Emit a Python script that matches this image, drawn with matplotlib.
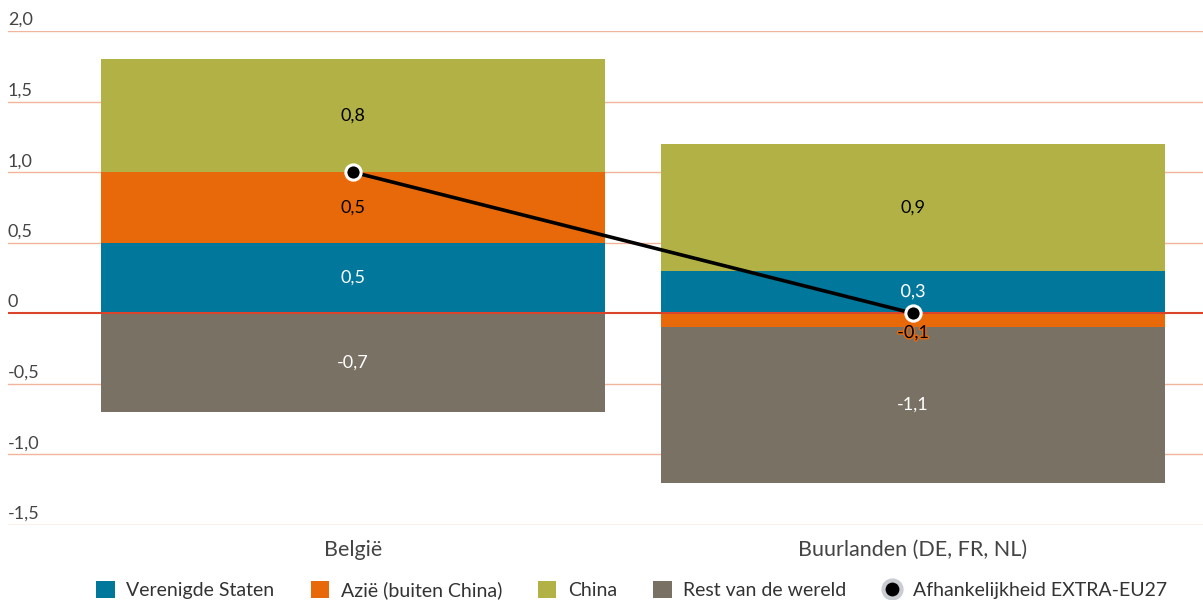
import matplotlib
matplotlib.use("Agg")
import matplotlib.pyplot as plt
from matplotlib.lines import Line2D
from matplotlib.patches import Patch
import matplotlib.patheffects as pe
import matplotlib.transforms as mtrans
import numpy as np

plt.rcParams['font.family'] = ['Lato', 'DejaVu Sans']

categories = ["België", "Buurlanden (DE, FR, NL)"]
series_names = ["Verenigde Staten", "Azië (buiten China)", "China", "Rest van de wereld"]
us = [0.5, 0.3]
asia = [0.5, -0.1]
china = [0.8, 0.9]
rest = [-0.7, -1.1]
dependence = [1.0, 0.0]
line_name = "Afhankelijkheid EXTRA-EU27"
yticks = [-1.5, -1.0, -0.5, 0, 0.5, 1.0, 1.5, 2.0]
ytick_labels = ["-1,5", "-1,0", "-0,5", "0", "0,5", "1,0", "1,5", "2,0"]

colors = ["#01779b", "#e8690a", "#b1b145", "#7a7165"]
label_colors = ["white", "black", "black", "white"]

fig = plt.figure(figsize=(12.03, 6.0), dpi=100)
ax = fig.add_axes([8/1203, 75/600, 1195/1203, 494/600])

x = np.arange(len(categories))
width = 0.9
series = [us, asia, china, rest]
pos_base = np.zeros(len(categories))
neg_base = np.zeros(len(categories))
for vals, col, lcol in zip(series, colors, label_colors):
    vals = np.array(vals, dtype=float)
    bottoms = np.where(vals >= 0, pos_base, neg_base)
    ax.bar(x, vals, width=width, bottom=bottoms, color=col, zorder=2)
    for xi, v, b in zip(x, vals, bottoms):
        ymid = b + v / 2
        if abs(v) < 0.2:
            ymid = b + v - 0.04 if v < 0 else b + v + 0.04
        txt = ax.text(xi, ymid, f"{v:.1f}".replace(".", ","), ha="center", va="center",
                      color=lcol, fontsize=13, zorder=4)
        if abs(v) < 0.2 or (xi == 1 and abs(v) < 0.35):
            txt.set_path_effects([pe.withStroke(linewidth=2, foreground=col)])
    pos_base = pos_base + np.where(vals >= 0, vals, 0)
    neg_base = neg_base + np.where(vals < 0, vals, 0)

ax.plot(x, dependence, color="black", lw=2.6, marker="o", markersize=11,
        markerfacecolor="black", markeredgecolor="white", markeredgewidth=2.2, zorder=5)

# grid lines and y labels
offset = mtrans.offset_copy(ax.get_yaxis_transform(), fig=fig, x=0, y=6, units="dots")
for yv, lab in zip(yticks, ytick_labels):
    if yv == 0:
        ax.axhline(yv, color="#d9442b", lw=1.5, zorder=3)
    else:
        ax.axhline(yv, color="#f2b49c", lw=1.0, zorder=1)
    ax.text(0.0, yv, lab, transform=offset, ha="left", va="baseline",
            fontsize=13, color="#444444")

ax.set_xlim((8 - 353) / 560, (1203 - 353) / 560)
ax.set_ylim(-1.5, 2.0)
ax.set_yticks([])
ax.set_xticks(x)
ax.set_xticklabels(categories, fontsize=15.5, color="#444444")
ax.tick_params(axis="x", length=0, pad=11)
for s in ax.spines.values():
    s.set_visible(False)

handles = [Patch(facecolor=c, edgecolor="none") for c in colors]
handles.append(Line2D([], [], color="none", marker="o", markersize=13, markerfacecolor="black",
                      markeredgecolor="#c9cdd1", markeredgewidth=3))
labels = series_names + [line_name]
fig.legend(handles, labels, loc="lower center", bbox_to_anchor=(0.525, -0.028), ncol=5,
           frameon=False, fontsize=14, handlelength=0.95, handleheight=0.95, handletextpad=0.6,
           columnspacing=1.85, labelcolor="#333333")

fig.savefig("out.png", dpi=100)
